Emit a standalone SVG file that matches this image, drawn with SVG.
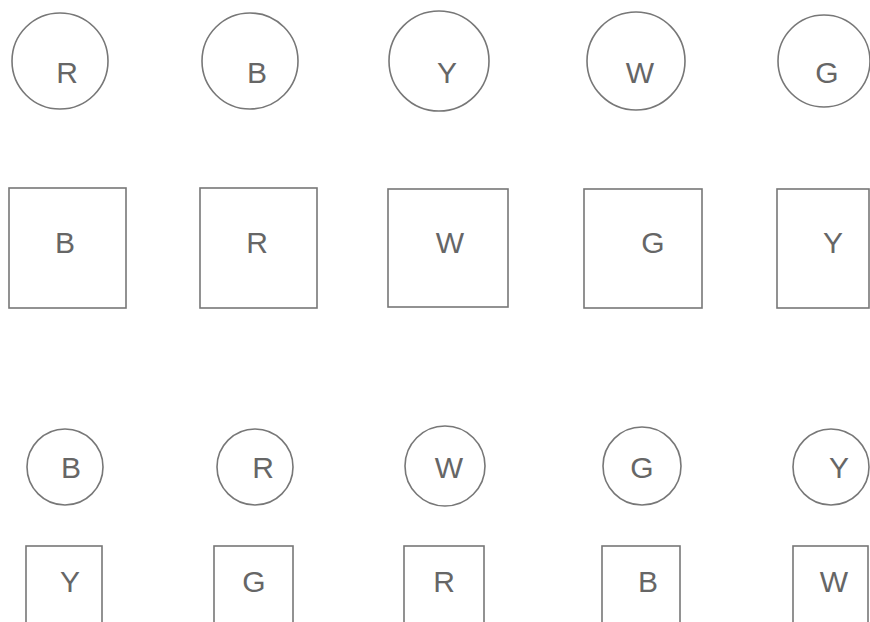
<svg xmlns="http://www.w3.org/2000/svg" width="870" height="622" viewBox="0 0 870 622">
<style>
.s{fill:#fff;stroke:#777;stroke-width:1.6}
.t{font-family:"Liberation Sans",Arial,sans-serif;font-size:30px;fill:#666;text-anchor:middle}
</style>
<rect width="870" height="622" fill="#fff"/>
<g id="c1"><circle class="s" cx="60" cy="61" r="48"/><text class="t" x="67" y="83">R</text></g>
<g id="c2"><circle class="s" cx="250" cy="61" r="48"/><text class="t" x="257" y="83">B</text></g>
<g id="c3"><circle class="s" cx="439" cy="61" r="50"/><text class="t" x="447" y="83">Y</text></g>
<g id="c4"><circle class="s" cx="636" cy="61" r="49"/><text class="t" x="640" y="83">W</text></g>
<g id="c5"><circle class="s" cx="824" cy="61" r="46"/><text class="t" x="827" y="83">G</text></g>
<g id="s1"><rect class="s" x="9" y="188" width="117" height="120"/><text class="t" x="65" y="253">B</text></g>
<g id="s2"><rect class="s" x="200" y="188" width="117" height="120"/><text class="t" x="257" y="253">R</text></g>
<g id="s3"><rect class="s" x="388" y="189" width="120" height="118"/><text class="t" x="450" y="253">W</text></g>
<g id="s4"><rect class="s" x="584" y="189" width="118" height="119"/><text class="t" x="653" y="253">G</text></g>
<g id="s5"><rect class="s" x="777" y="189" width="92" height="119"/><text class="t" x="833" y="253">Y</text></g>
<g id="c6"><circle class="s" cx="65" cy="467" r="38"/><text class="t" x="71" y="478">B</text></g>
<g id="c7"><circle class="s" cx="255" cy="467" r="38"/><text class="t" x="263" y="478">R</text></g>
<g id="c8"><circle class="s" cx="445" cy="466" r="40"/><text class="t" x="449" y="478">W</text></g>
<g id="c9"><circle class="s" cx="642" cy="466" r="39"/><text class="t" x="642" y="478">G</text></g>
<g id="c10"><circle class="s" cx="831" cy="467" r="38"/><text class="t" x="839" y="478">Y</text></g>
<g id="s6"><rect class="s" x="26" y="546" width="76" height="84"/><text class="t" x="70" y="592">Y</text></g>
<g id="s7"><rect class="s" x="214" y="546" width="79" height="84"/><text class="t" x="254" y="592">G</text></g>
<g id="s8"><rect class="s" x="404" y="546" width="80" height="84"/><text class="t" x="444" y="592">R</text></g>
<g id="s9"><rect class="s" x="602" y="546" width="78" height="84"/><text class="t" x="648" y="592">B</text></g>
<g id="s10"><rect class="s" x="793" y="546" width="75" height="84"/><text class="t" x="834" y="592">W</text></g>
<g id="connectors"></g>
</svg>
